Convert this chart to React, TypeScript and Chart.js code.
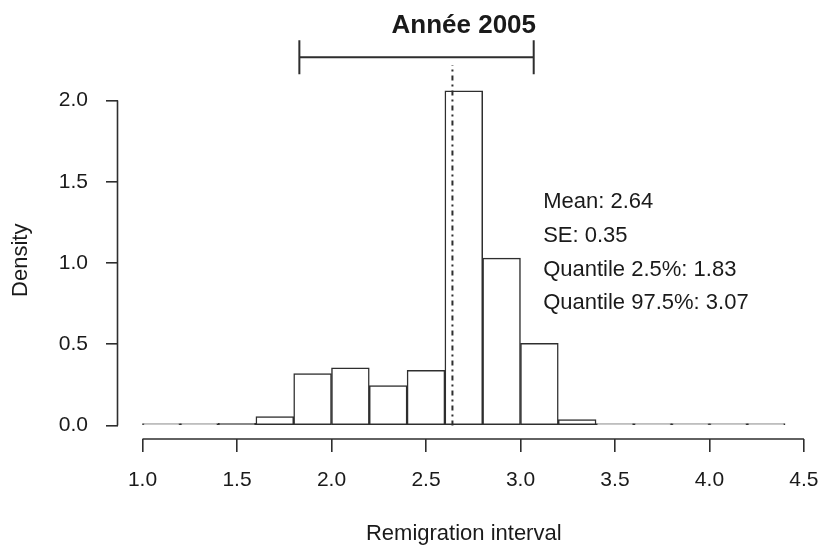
import React, { useEffect, useRef } from 'react';
import { Chart, registerables } from 'chart.js';

Chart.register(...registerables);

// ---- data ----
const binCenters = [1.1, 1.3, 1.5, 1.7, 1.9, 2.1, 2.3, 2.5, 2.7, 2.9, 3.1, 3.3, 3.5, 3.7, 3.9, 4.1, 4.3];
const densities = [0.005, 0.005, 0.013, 0.055, 0.32, 0.355, 0.245, 0.34, 2.06, 1.03, 0.505, 0.037, 0.006, 0.002, 0.001, 0.001, 0.001];
const xTicks = [1.0, 1.5, 2.0, 2.5, 3.0, 3.5, 4.0, 4.5];
const yTicks = [0.0, 0.5, 1.0, 1.5, 2.0];
const meanValue = 2.64;
const quantileLow = 1.83;
const quantileHigh = 3.07;
const statLines = ['Mean: 2.64', 'SE: 0.35', 'Quantile 2.5%: 1.83', 'Quantile 97.5%: 3.07'];
const chartTitle = 'Année 2005';
const xTitle = 'Remigration interval';
const yTitle = 'Density';

// annotation anchors (data units)
const errorBarLevel = 2.266;
const meanLineTop = 2.218;
const statTextX = 3.12;
const statTextTop = 1.375;

// ---- styles ----
const W = 823;
const H = 547;
const FONT = "'Liberation Sans', Arial, Helvetica, sans-serif";
const LINE = '#2e2e2e';
const TEXT = '#1a1a1a';
const STAT_STEP = 33.7;
const CAP_HALF = 17;

const overlayPlugin = {
  id: 'rOverlay',
  afterDraw(chart: any) {
    const { ctx, chartArea } = chart;
    const x = chart.scales.x;
    const y = chart.scales.y;
    ctx.save();
    ctx.strokeStyle = LINE;
    ctx.lineWidth = 1.6;
    ctx.lineCap = 'butt';
    // detached R-style axis lines
    const ax = chartArea.left;
    ctx.beginPath();
    ctx.moveTo(ax, y.getPixelForValue(yTicks[0]));
    ctx.lineTo(ax, y.getPixelForValue(yTicks[yTicks.length - 1]));
    ctx.stroke();
    const ay = chartArea.bottom;
    ctx.beginPath();
    ctx.moveTo(x.getPixelForValue(xTicks[0]), ay);
    ctx.lineTo(x.getPixelForValue(xTicks[xTicks.length - 1]), ay);
    ctx.stroke();

    // error bar (quantiles)
    const ey = y.getPixelForValue(errorBarLevel);
    const ex1 = x.getPixelForValue(quantileLow);
    const ex2 = x.getPixelForValue(quantileHigh);
    ctx.lineWidth = 2;
    ctx.beginPath();
    ctx.moveTo(ex1, ey);
    ctx.lineTo(ex2, ey);
    ctx.moveTo(ex1, ey - CAP_HALF);
    ctx.lineTo(ex1, ey + CAP_HALF);
    ctx.moveTo(ex2, ey - CAP_HALF);
    ctx.lineTo(ex2, ey + CAP_HALF);
    ctx.stroke();

    // mean line (dot-dash)
    const mx = x.getPixelForValue(meanValue);
    ctx.setLineDash([5, 4, 2, 4]);
    ctx.lineWidth = 2;
    ctx.beginPath();
    ctx.moveTo(mx, y.getPixelForValue(0));
    ctx.lineTo(mx, y.getPixelForValue(meanLineTop));
    ctx.stroke();
    ctx.setLineDash([]);

    // stats text
    ctx.fillStyle = TEXT;
    ctx.font = `22px ${FONT}`;
    ctx.textAlign = 'left';
    ctx.textBaseline = 'middle';
    const tx = x.getPixelForValue(statTextX);
    const ty = y.getPixelForValue(statTextTop);
    statLines.forEach((t, i) => ctx.fillText(t, tx, ty + i * STAT_STEP));
    ctx.restore();
  },
};

export default function App() {
  const ref = useRef<HTMLCanvasElement | null>(null);

  useEffect(() => {
    if (!ref.current) return;
    const chart = new Chart(ref.current, {
      type: 'bar',
      data: {
        datasets: [
          {
            label: 'Density',
            data: binCenters.map((c, i) => ({ x: c, y: densities[i] })),
            backgroundColor: '#ffffff',
            borderColor: LINE,
            borderWidth: 1.5,
            borderSkipped: false,
            barPercentage: 1,
            categoryPercentage: 1,
            minBarLength: 2,
          } as any,
        ],
      },
      options: {
        responsive: false,
        animation: false,
        events: [],
        layout: { padding: { left: 0, right: 13, top: 0, bottom: 0 } },
        plugins: {
          legend: { display: false },
          tooltip: { enabled: false },
          title: {
            display: true,
            text: chartTitle,
            fullSize: false,
            color: TEXT,
            font: { family: FONT, size: 26, weight: 'bold' },
            padding: { top: 10, bottom: 40.3 },
          },
        },
        scales: {
          x: {
            type: 'linear',
            offset: false,
            min: 0.8677,
            max: 4.532,
            afterFit: (s: any) => {
              s.height = 108;
              s.paddingLeft = 0;
              s.paddingRight = 0;
            },
            afterBuildTicks: (s: any) => {
              s.ticks = xTicks.map((v) => ({ value: v }));
            },
            border: { display: false },
            grid: {
              display: true,
              offset: false,
              drawOnChartArea: false,
              drawTicks: true,
              tickLength: 13,
              color: LINE,
              lineWidth: 1.6,
            },
            ticks: {
              color: TEXT,
              font: { family: FONT, size: 21 },
              padding: 16,
              maxRotation: 0,
              autoSkip: false,
              callback: (v: any) => Number(v).toFixed(1),
            },
            title: {
              display: true,
              text: xTitle,
              color: TEXT,
              font: { family: FONT, size: 22 },
              padding: { top: 0, bottom: 0 },
            },
          },
          y: {
            type: 'linear',
            min: -0.0831,
            max: 2.117,
            afterFit: (s: any) => {
              s.width = 117.5;
              s.paddingTop = 0;
              s.paddingBottom = 0;
            },
            afterBuildTicks: (s: any) => {
              s.ticks = yTicks.map((v) => ({ value: v }));
            },
            border: { display: false },
            grid: {
              display: true,
              drawOnChartArea: false,
              drawTicks: true,
              tickLength: 11.5,
              color: LINE,
              lineWidth: 1.6,
            },
            ticks: {
              color: TEXT,
              font: { family: FONT, size: 21 },
              padding: 18,
              autoSkip: false,
              callback: (v: any) => Number(v).toFixed(1),
            },
            title: {
              display: true,
              text: yTitle,
              color: TEXT,
              font: { family: FONT, size: 22 },
              padding: { top: 7.5, bottom: 0 },
            },
          },
        },
      },
      plugins: [overlayPlugin],
    });
    return () => chart.destroy();
  }, []);

  return (
    <div style={{ position: 'absolute', left: 0, top: 0, width: W, height: H, background: '#ffffff' }}>
      <canvas ref={ref} width={W} height={H} />
    </div>
  );
}
